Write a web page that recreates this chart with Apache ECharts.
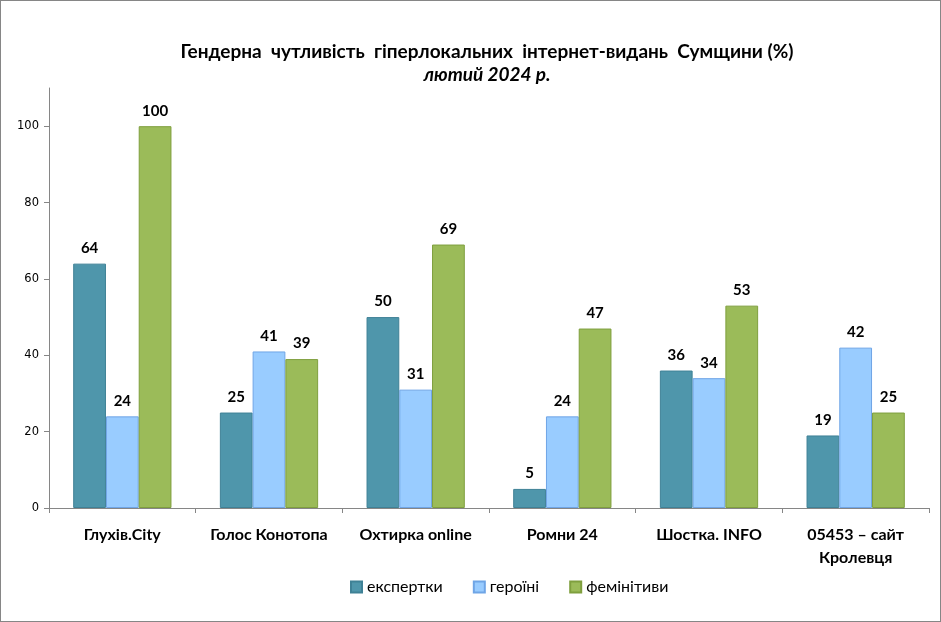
<!DOCTYPE html>
<html>
<head>
<meta charset="utf-8">
<script src="https://cdn.jsdelivr.net/npm/echarts@6/dist/echarts.min.js"></script>
<style>
  html, body { margin: 0; padding: 0; background: #fff; }
  #chart { width: 941px; height: 622px; box-sizing: border-box; border: 1px solid #868686; }
</style>
</head>
<body>
<div id="chart"></div>
<script>
const categories = ["Глухів.City", "Голос Конотопа", "Охтирка online", "Ромни 24", "Шостка. INFO", "05453 – сайт\nКролевця"];
const expertky = [64, 25, 50, 5, 36, 19];
const heroini = [24, 41, 31, 24, 34, 42];
const feminityvy = [100, 39, 69, 47, 53, 25];
const yTicks = [0, 20, 40, 60, 80, 100];

const font = "Lato, 'Open Sans', sans-serif";

function barSeries(name, data, color, border) {
  return {
    name: name,
    type: "bar",
    data: data,
    barGap: "0%",
    barCategoryGap: "33%",
    itemStyle: { color: color, borderColor: border, borderWidth: 1 },
    label: {
      show: true,
      position: "top",
      distance: 8,
      color: "#000",
      fontFamily: font,
      fontWeight: "bold",
      fontSize: 15,
    },
  };
}

const chart = echarts.init(document.getElementById("chart"));
chart.setOption({
  animation: false,
  title: {
    text: "Гендерна  чутливість  гіперлокальних  інтернет-видань  Сумщини (%)",
    subtext: "лютий 2024 р.",
    left: 481,
    textAlign: "center",
    top: 36,
    itemGap: 4,
    textStyle: { fontFamily: font, fontWeight: "bold", fontSize: 19, color: "#000" },
    subtextStyle: { fontFamily: font, fontWeight: "bold", fontStyle: "italic", fontSize: 19, color: "#000" },
  },
  legend: {
    bottom: 21,
    left: 344,
    icon: "rect",
    itemWidth: 11,
    itemHeight: 11,
    itemGap: 30,
    textStyle: { fontFamily: font, fontSize: 16, color: "#000" },
  },
  grid: { left: 48, right: 11, top: 87, bottom: 113, containLabel: false },
  xAxis: {
    type: "category",
    data: categories,
    axisLine: { lineStyle: { color: "#868686" } },
    axisTick: { show: true, length: 5, lineStyle: { color: "#868686" } },
    axisLabel: {
      margin: 15,
      color: "#000",
      fontFamily: font,
      fontWeight: "bold",
      fontSize: 16,
      lineHeight: 23,
      interval: 0,
    },
  },
  yAxis: {
    type: "value",
    min: 0,
    max: 110,
    interval: 20,
    splitLine: { show: false },
    axisLine: { show: true, lineStyle: { color: "#868686" } },
    axisTick: { show: true, length: 5, lineStyle: { color: "#868686" }, customValues: yTicks },
    axisLabel: { color: "#000", fontFamily: "'DejaVu Sans', sans-serif", fontSize: 11.5, margin: 10, customValues: yTicks },
  },
  series: [
    barSeries("експертки", expertky, "#4F96AB", "#3F8196"),
    barSeries("героїні", heroini, "#99CCFF", "#6FA5E6"),
    barSeries("фемінітиви", feminityvy, "#9BBB59", "#7F9F3E"),
  ],
});
</script>
</body>
</html>
